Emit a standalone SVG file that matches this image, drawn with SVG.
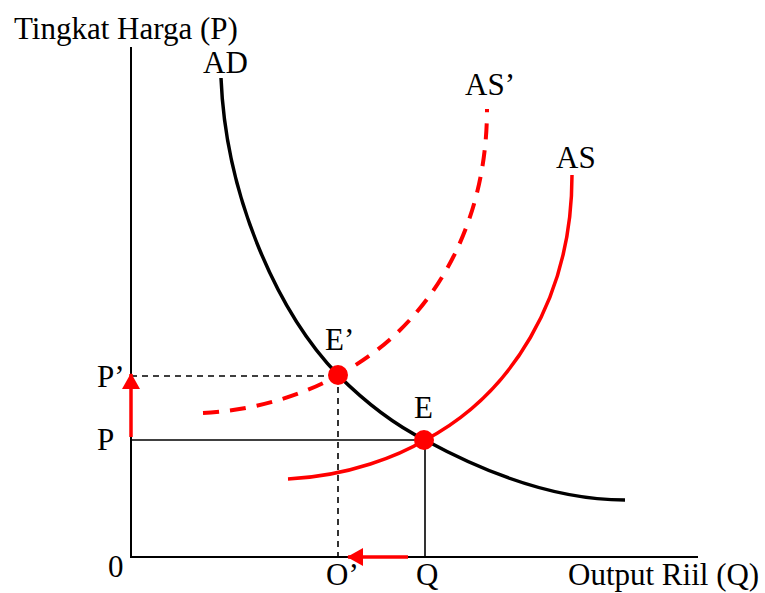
<svg xmlns="http://www.w3.org/2000/svg" width="765" height="593" viewBox="0 0 765 593">
<style>
text{font-family:"Liberation Serif","Times New Roman",serif;font-size:31px;fill:#000}
.ax{stroke:#000;stroke-width:2;fill:none}
.thin{stroke:#000;stroke-width:1.6;fill:none}
.dash{stroke:#000;stroke-width:1.6;fill:none;stroke-dasharray:6 5}
.ad{stroke:#000;stroke-width:3.5;fill:none}
.as{stroke:#f00;stroke-width:3.5;fill:none}
.asd{stroke:#f00;stroke-width:4;fill:none;stroke-dasharray:16 11}
.arr{stroke:#f00;stroke-width:3.5;fill:none}
</style>
<defs>
<marker id="ah" markerWidth="16" markerHeight="18" refX="15" refY="9" orient="auto" markerUnits="userSpaceOnUse">
<path d="M0,0 L16,9 L0,18 Z" fill="#f00"/>
</marker>
</defs>
<rect width="765" height="593" fill="#fff"/>
<g id="axes">
<line class="ax" x1="131" y1="47" x2="131" y2="557"/>
<line class="ax" x1="130" y1="557" x2="698" y2="557"/>
</g>
<g id="connectors">
<line class="thin" x1="131" y1="440" x2="425" y2="440"/>
<line class="thin" x1="425" y1="440" x2="425" y2="557"/>
<line class="dash" x1="131" y1="376" x2="338" y2="376"/>
<line class="dash" x1="338" y1="376" x2="338" y2="557"/>
<line class="arr" x1="131" y1="437" x2="131" y2="374" marker-end="url(#ah)"/>
<line class="arr" x1="408" y1="557" x2="348" y2="557" marker-end="url(#ah)"/>
</g>
<g id="AD">
<path class="ad" d="M221,78 C226,200 280,315 338,375 C364,401 395,425 425,440 C480,470 550,500 625,500"/>
<text x="203" y="73">AD</text>
</g>
<g id="AS">
<path class="as" d="M288,479 C350,476 400,455 425,440 C510,395 572,300 572,175"/>
<text x="556" y="168">AS</text>
</g>
<g id="AS2">
<path class="asd" d="M203,413 C265,410 315,389 340,374 C425,329 487,234 487,109"/>
<text x="465" y="95">AS’</text>
</g>
<g id="Eprime">
<circle cx="338" cy="375" r="10" fill="#f00"/>
<text x="325" y="350">E’</text>
</g>
<g id="E">
<circle cx="424" cy="440" r="10" fill="#f00"/>
<text x="414" y="418">E</text>
</g>
<g id="labels">
<text x="14" y="39">Tingkat Harga (P)</text>
<text x="97" y="387">P’</text>
<text x="97" y="450">P</text>
<text x="108" y="577">0</text>
<text x="326" y="585">O’</text>
<text x="416" y="585">Q</text>
<text x="568" y="585">Output Riil (Q)</text>
</g>
</svg>
